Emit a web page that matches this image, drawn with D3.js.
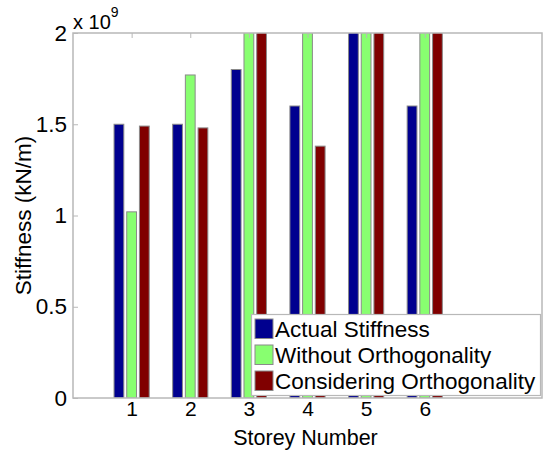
<!DOCTYPE html>
<html>
<head>
<meta charset="utf-8">
<script src="https://cdn.jsdelivr.net/npm/d3@7"></script>
<style>
  html, body { margin: 0; padding: 0; background: #fff; }
  svg { display: block; font-family: "Liberation Sans", Arial, sans-serif; }
</style>
</head>
<body>
<svg id="chart" width="545" height="450"></svg>
<script>
// Storey stiffness comparison (values in kN/m)
const storeys = [1, 2, 3, 4, 5, 6];
const seriesNames = ["Actual Stiffness", "Without Orthogonality", "Considering Orthogonality"];
const actualStiffness = [1.50e9, 1.50e9, 1.80e9, 1.60e9, 2.10e9, 1.60e9];
const withoutOrthogonality = [1.02e9, 1.77e9, 2.40e9, 2.60e9, 2.50e9, 2.70e9];
const consideringOrthogonality = [1.49e9, 1.48e9, 2.30e9, 1.38e9, 2.20e9, 2.35e9];
const seriesColors = ["#00008F", "#88FF70", "#800000"];
const yTicks = [0, 0.5e9, 1e9, 1.5e9, 2e9];

const seriesValues = [actualStiffness, withoutOrthogonality, consideringOrthogonality];

const svg = d3.select("#chart");
const plot = { left: 73, right: 542, top: 33, bottom: 398 };
const fontFamily = "'Liberation Sans', Arial, sans-serif";

const x = d3.scaleLinear().domain([0, 8]).range([plot.left, plot.right]);
const y = d3.scaleLinear().domain([0, 2e9]).range([plot.bottom, plot.top]);
const offset = d3.scaleBand().domain(seriesNames).range([-0.3, 0.3]).paddingInner(0.23);

svg.append("defs").append("clipPath").attr("id", "plotClip")
  .append("rect")
  .attr("x", plot.left).attr("y", plot.top)
  .attr("width", plot.right - plot.left).attr("height", plot.bottom - plot.top);

// Bars
const barLayer = svg.append("g").attr("clip-path", "url(#plotClip)");
seriesNames.forEach((name, si) => {
  barLayer.selectAll(null)
    .data(storeys.map((s, i) => ({ s, v: seriesValues[si][i] })))
    .join("rect")
    .attr("x", d => x(d.s + offset(name)))
    .attr("width", d => x(d.s + offset(name) + offset.bandwidth()) - x(d.s + offset(name)))
    .attr("y", d => y(d.v))
    .attr("height", d => y(0) - y(d.v))
    .attr("fill", seriesColors[si])
    .attr("stroke", "#8a8a8a")
    .attr("stroke-width", 1);
});

// Axes box
const axisColor = "#b8b8b8";
svg.append("rect")
  .attr("x", plot.left).attr("y", plot.top)
  .attr("width", plot.right - plot.left).attr("height", plot.bottom - plot.top)
  .attr("fill", "none").attr("stroke", axisColor).attr("stroke-width", 1.5);

// Y axis
const yAxis = d3.axisLeft(y).tickValues(yTicks)
  .tickSize(-5).tickPadding(6)
  .tickFormat(d => d3.format("~g")(d / 1e9));
const gy = svg.append("g").attr("transform", `translate(${plot.left},0)`).call(yAxis);
gy.select(".domain").remove();
gy.selectAll(".tick line").attr("stroke", axisColor);
gy.selectAll(".tick text").attr("font-size", 22.5).attr("fill", "#000")
  .attr("font-family", fontFamily);

// X axis
const xAxis = d3.axisBottom(x).tickValues(storeys).tickSize(0).tickPadding(3)
  .tickFormat(d3.format("d"));
const gx = svg.append("g").attr("transform", `translate(0,${plot.bottom})`).call(xAxis);
gx.select(".domain").remove();
gx.selectAll(".tick text").attr("font-size", 21).attr("fill", "#000")
  .attr("font-family", fontFamily);

// Top tick marks
const xTop = d3.axisTop(x).tickValues(storeys).tickSize(-5).tickFormat("");
const gxt = svg.append("g").attr("transform", `translate(0,${plot.top})`).call(xTop);
gxt.select(".domain").remove();
gxt.selectAll(".tick line").attr("stroke", axisColor);

// Exponent label
const expo = svg.append("text").attr("x", plot.left).attr("y", 29)
  .attr("font-size", 20).attr("fill", "#000");
expo.append("tspan").text("x 10");
expo.append("tspan").attr("dy", -12).attr("font-size", 14).text("9");

// Axis titles
svg.append("text")
  .attr("x", (plot.left + plot.right) / 2 - 2).attr("y", 445)
  .attr("text-anchor", "middle").attr("font-size", 21.5).attr("fill", "#000")
  .text("Storey Number");
svg.append("text")
  .attr("transform", `translate(31,${(plot.top + plot.bottom) / 2}) rotate(-90)`)
  .attr("text-anchor", "middle").attr("font-size", 22.5).attr("fill", "#000")
  .text("Stiffness (kN/m)");

// Legend
const legend = svg.append("g");
legend.append("rect")
  .attr("x", 251.5).attr("y", 314.5).attr("width", 289).attr("height", 81)
  .attr("fill", "#fff").attr("stroke", axisColor).attr("stroke-width", 1.2);
seriesNames.forEach((name, i) => {
  const ry = 319 + i * 26;
  legend.append("rect")
    .attr("x", 255).attr("y", ry).attr("width", 18).attr("height", 19.5)
    .attr("fill", seriesColors[i]).attr("stroke", "#8a8a8a").attr("stroke-width", 1);
  legend.append("text")
    .attr("x", 275).attr("y", ry + 18)
    .attr("font-size", 22.5).attr("fill", "#000")
    .text(name);
});
</script>
</body>
</html>
